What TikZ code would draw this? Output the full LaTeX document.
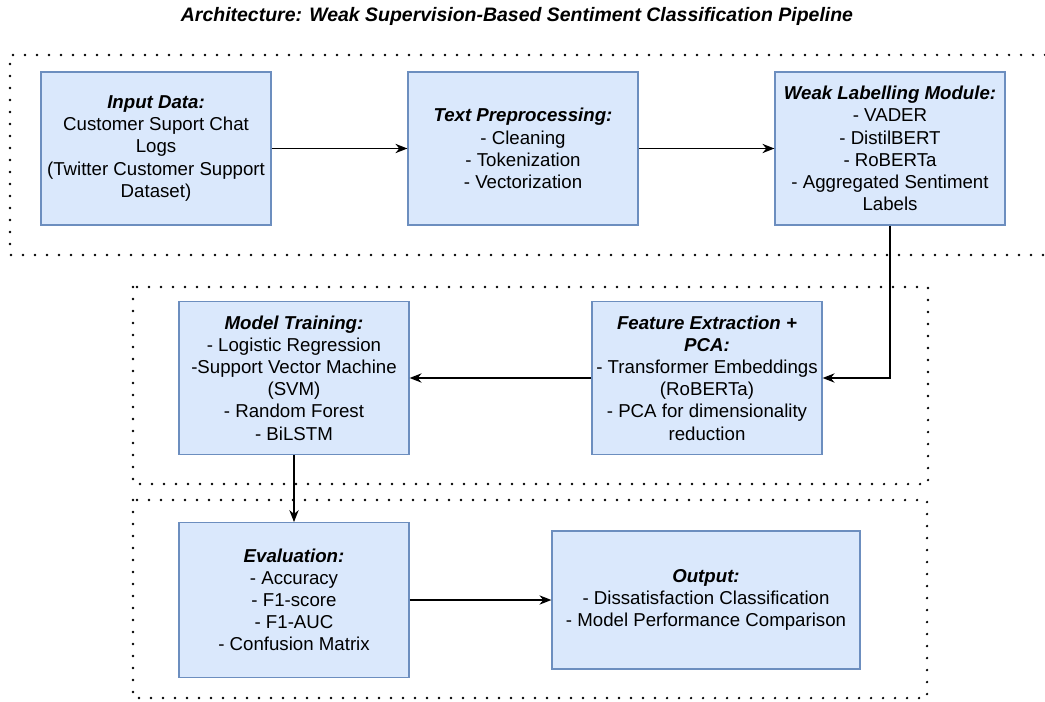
\documentclass[tikz,border=0pt]{standalone}
\usepackage{fontspec}
\setmainfont{Liberation Sans}
\usetikzlibrary{arrows.meta}
\definecolor{boxfill}{HTML}{DAE8FC}
\definecolor{boxline}{HTML}{6C8EBF}
\tikzset{
  stagebox/.style={draw=boxline,fill=boxfill,line width=0.9pt,align=center,
    minimum width=172.5pt,minimum height=114.75pt,inner sep=2pt,
    font=\fontsize{14}{16.6}\selectfont},
  groupline/.style={line width=1.9pt,line cap=round,dash pattern=on 0pt off 9pt},
  flow/.style={-{Stealth[length=9pt,width=7pt]},line width=1pt},
}
\newcommand{\hd}[1]{\textbf{\textit{#1}}}
\begin{document}
\begin{tikzpicture}[x=0.75pt,y=-0.75pt]
  \useasboundingbox (0,0) rectangle (1045,702);

  % title
  \node(title)at(517,16){\fontsize{14.6}{17}\selectfont\hd{Architecture: Weak Supervision-Based Sentiment Classification Pipeline}};

  % dotted groups
  \draw[groupline](1045,55)--(10,55)--(10,255)--(1045,255);
  \draw[groupline](133,287)rectangle(928,484);
  \draw[groupline](133,500)rectangle(927,698);

  % first row
  \node[stagebox](input)at(156,148.5){\hd{Input Data:}\\Customer Suport Chat\\Logs\\(Twitter Customer Support\\Dataset)};
  \node[stagebox](prep)at(523,148.5){\hd{Text Preprocessing:}\\- Cleaning\\- Tokenization\\- Vectorization};
  \node[stagebox](weak)at(890,148.5){\hd{Weak Labelling Module:}\\- VADER\\- DistilBERT\\- RoBERTa\\- Aggregated Sentiment\\Labels};

  % second row
  \node[stagebox](train)at(294,378){\hd{Model Training:}\\- Logistic Regression\\-Support Vector Machine\\(SVM)\\- Random Forest\\- BiLSTM};
  \node[stagebox](feat)at(707,378){\hd{Feature Extraction +}\\\hd{PCA:}\\- Transformer Embeddings\\(RoBERTa)\\- PCA for dimensionality\\reduction};

  % third row
  \node[stagebox,minimum height=116pt](eval)at(294,600){\hd{Evaluation:}\\- Accuracy\\- F1-score\\- F1-AUC\\- Confusion Matrix};
  \node[stagebox,minimum width=231pt,minimum height=103.5pt](out)at(706,600){\hd{Output:}\\- Dissatisfaction Classification\\- Model Performance Comparison};

  \draw[flow](input)--(prep);
  \draw[flow](prep)--(weak);
  \draw[flow](weak.south)|-(feat.east);
  \draw[flow](feat)--(train);
  \draw[flow](train)--(eval);
  \draw[flow](eval)--(out);
\end{tikzpicture}
\end{document}
